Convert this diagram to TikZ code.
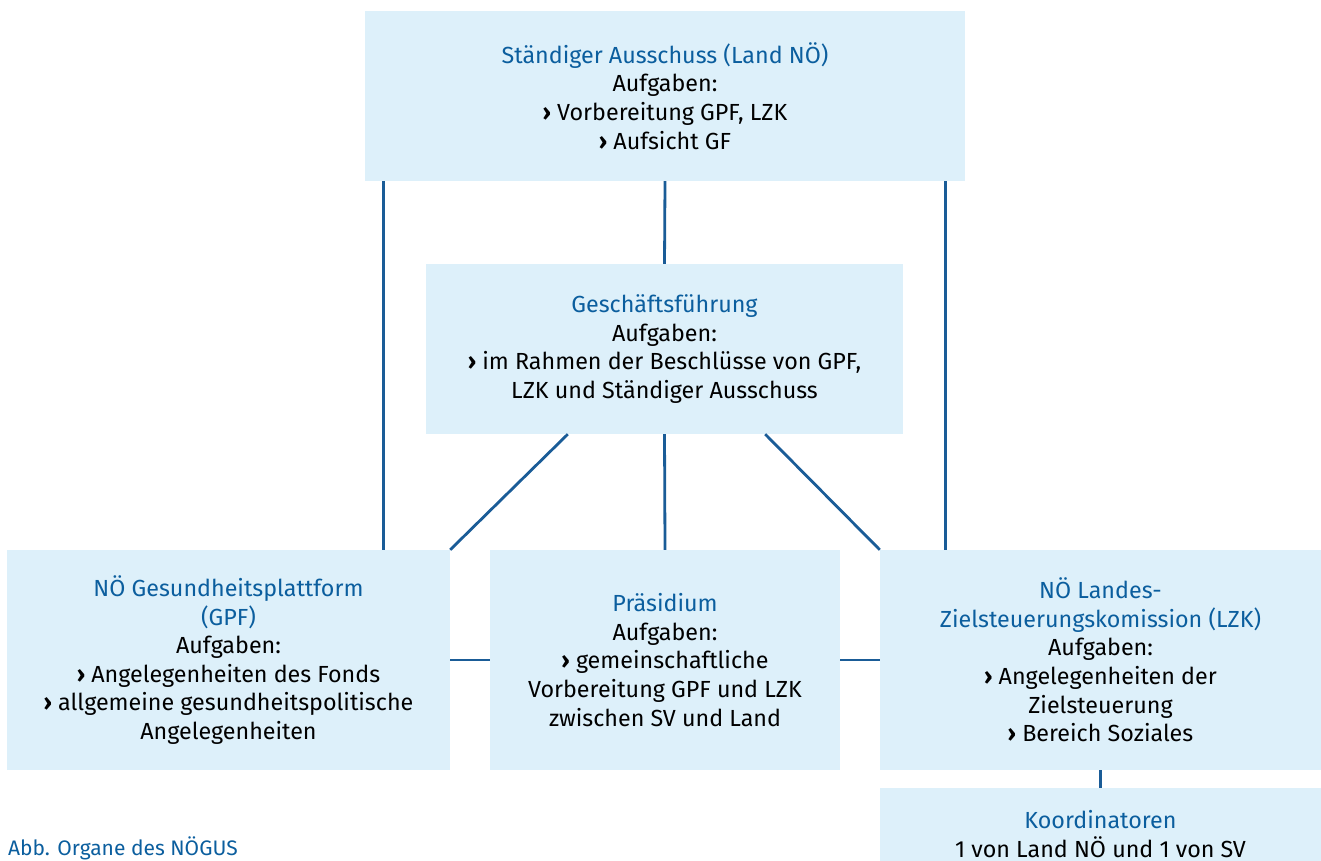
\documentclass[tikz,border=0pt]{standalone}
\usepackage{fontspec}
\setmainfont{Fira Sans}
\usepackage{tikz}
\usetikzlibrary{positioning,calc}

\definecolor{boxfill}{HTML}{DDF0FA}
\definecolor{titleblue}{HTML}{0B5E9E}
\definecolor{linkblue}{HTML}{1A5C97}
\newcommand{\bul}{{\bfseries ›}\ }

\begin{document}
\begin{tikzpicture}[
  x=1pt, y=-1pt,
  orgbox/.style={fill=boxfill, draw=none, align=center, inner sep=0pt,
    font={\fontsize{23.3}{28.6}\selectfont}},
  orglink/.style={draw=linkblue, line width=2.8pt}
]
\useasboundingbox (0,0) rectangle (1321,861);
% boxes
\node[orgbox, minimum width=600pt, minimum height=170pt] (top) at (665,96)
  {\textcolor{titleblue}{Ständiger Ausschuss (Land NÖ)}\\Aufgaben:\\\bul Vorbereitung GPF, LZK\\\bul Aufsicht GF};
\node[orgbox, minimum width=477pt, minimum height=170pt] (gf) at (664.5,349)
  {\textcolor{titleblue}{Geschäftsführung}\\Aufgaben:\\\bul im Rahmen der Beschlüsse von GPF,\\LZK und Ständiger Ausschuss};
\node[orgbox, minimum width=443pt, minimum height=220pt] (gpf) at (228.5,660)
  {\textcolor{titleblue}{NÖ Gesundheitsplattform}\\\textcolor{titleblue}{(GPF)}\\Aufgaben:\\\bul Angelegenheiten des Fonds\\\bul allgemeine gesundheitspolitische\\Angelegenheiten};
\node[orgbox, minimum width=350pt, minimum height=220pt] (praes) at (665,660)
  {\textcolor{titleblue}{Präsidium}\\Aufgaben:\\\bul gemeinschaftliche\\Vorbereitung GPF und LZK\\zwischen SV und Land};
\node[orgbox, minimum width=441pt, minimum height=220pt] (lzk) at (1100.5,660)
  {\textcolor{titleblue}{NÖ Landes-}\\\textcolor{titleblue}{Zielsteuerungskomission (LZK)}\\Aufgaben:\\\bul Angelegenheiten der\\Zielsteuerung\\\bul Bereich Soziales};
\node[orgbox, minimum width=441pt, minimum height=92pt] (koord) at (1100.5,834)
  {\textcolor{titleblue}{Koordinatoren}\\1 von Land NÖ und 1 von SV};
% connectors
\coordinate (tl) at ([xshift=19pt]top.south west);
\coordinate (tr) at ([xshift=-20pt]top.south east);
\coordinate (gl) at ([xshift=142pt]gf.south west);
\coordinate (gr) at ([xshift=-138pt]gf.south east);
\draw[orglink] (tl) -- (tl |- gpf.north);
\draw[orglink] (tr) -- (tr |- lzk.north);
\draw[orglink] (top.south) -- (gf.north);
\draw[orglink] (gf.south) -- (praes.north);
\draw[orglink] (gl) -- (gpf.north east);
\draw[orglink] (gr) -- (lzk.north west);
\draw[orglink] (gpf.east) -- (praes.west);
\draw[orglink] (praes.east) -- (lzk.west);
\draw[orglink] (lzk.south) -- (koord.north);
% caption
\node[anchor=base west, inner sep=0pt, text=titleblue, font={\fontsize{21}{23}\selectfont}] (cap) at (8,855) {Abb. Organe des NÖGUS};
\end{tikzpicture}
\end{document}
